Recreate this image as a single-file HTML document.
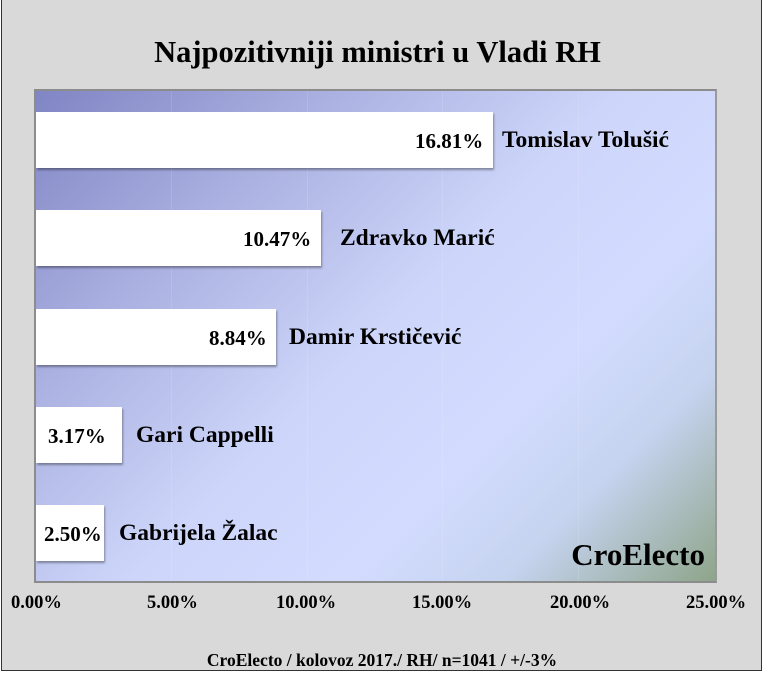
<!DOCTYPE html>
<html><head><style>
html,body{margin:0;padding:0;}
body{width:764px;height:673px;background:#fff;position:relative;overflow:hidden;font-family:"Liberation Serif",serif;font-weight:bold;color:#000;}
#frame{position:absolute;left:1px;top:0;width:759px;height:670px;background:#d9d9d9;border:1px solid #333;border-top:none;}
.t{position:absolute;white-space:nowrap;}
#plot{position:absolute;left:34px;top:89px;width:679px;height:490px;border:2px solid #8c8c8c;border-right-color:#9a9a9a;
background:linear-gradient(135deg,#8085c4 0%,#aab0e0 25%,#cdd6fa 50%,#d3dcff 68%,#c5d3ef 82%,#8ea58a 100%);overflow:hidden;}
.g{position:absolute;top:0;bottom:0;width:1px;background:rgba(255,255,255,0.12);}
.bar{position:absolute;left:0;height:56px;background:#fff;box-shadow:1px 2px 2px rgba(0,0,0,0.35);}
.v{font-size:21px;}
.n{font-size:23.5px;}
.x{font-size:18.5px;top:593px;}
</style></head><body>
<div id="frame"></div>
<div class="t" style="left:0;width:755px;text-align:center;top:35px;font-size:30.5px;">Najpozitivniji ministri u Vladi RH</div>
<div id="plot">
<div class="g" style="left:135px"></div><div class="g" style="left:271px"></div><div class="g" style="left:406px"></div><div class="g" style="left:542px"></div>
<div class="bar" style="top:21px;width:457px"></div>
<div class="bar" style="top:119px;width:285px"></div>
<div class="bar" style="top:218px;width:240px"></div>
<div class="bar" style="top:316px;width:86px"></div>
<div class="bar" style="top:414px;width:68px"></div>
<div class="t" style="right:10px;bottom:8px;font-size:31px;">CroElecto</div>
</div>
<div class="t v" style="left:415px;top:129px">16.81%</div>
<div class="t n" style="left:502px;top:127px">Tomislav Tolušić</div>
<div class="t v" style="left:243px;top:227px">10.47%</div>
<div class="t n" style="left:340px;top:225px">Zdravko Marić</div>
<div class="t v" style="left:209px;top:326px">8.84%</div>
<div class="t n" style="left:289px;top:324px">Damir Krstičević</div>
<div class="t v" style="left:48px;top:424px">3.17%</div>
<div class="t n" style="left:136px;top:422px">Gari Cappelli</div>
<div class="t v" style="left:44px;top:522px">2.50%</div>
<div class="t n" style="left:119px;top:520px">Gabrijela Žalac</div>
<div class="t x" style="left:11px">0.00%</div>
<div class="t x" style="left:147px">5.00%</div>
<div class="t x" style="left:276px">10.00%</div>
<div class="t x" style="left:412px">15.00%</div>
<div class="t x" style="left:550px">20.00%</div>
<div class="t x" style="left:686px">25.00%</div>
<div class="t" style="left:0;width:764px;text-align:center;top:650px;font-size:17.5px;">CroElecto / kolovoz 2017./ RH/ n=1041 / +/-3%</div>
</body></html>
